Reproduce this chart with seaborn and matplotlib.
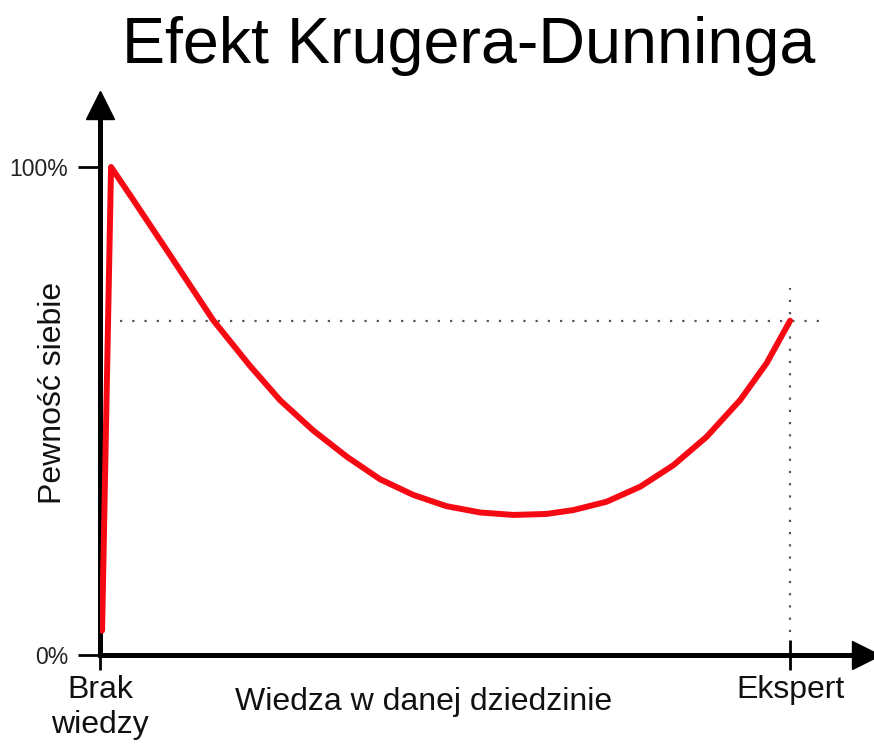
import matplotlib
matplotlib.use('Agg')
import matplotlib.pyplot as plt
import seaborn as sns
import pandas as pd

# wiedza (0 = brak, 100 = ekspert) i pewnosc siebie w %
knowledge = [0.3, 1.6, 4.8, 9.7, 16.4, 21.7, 26.1, 30.9, 35.8, 40.6, 45.4, 50.2,
             55.1, 59.9, 64.7, 68.6, 73.4, 78.3, 83.1, 87.9, 92.8, 96.6, 100]
confidence = [5, 100, 93.3, 82.9, 68.6, 59.3, 52.2, 46.0, 40.6, 36.0, 32.8, 30.5,
              29.2, 28.7, 28.9, 29.7, 31.4, 34.5, 38.9, 44.7, 52.3, 59.8, 68.5]
expert_x = 100
expert_level = 68.5
x_ticks = [0, 100]
x_labels = ['Brak\nwiedzy', 'Ekspert']
y_ticks = [0, 100]
y_labels = ['0%', '100%']

df = pd.DataFrame({'Wiedza': knowledge, 'Pewnosc': confidence})

sns.set_theme(style='white')
plt.rcParams['font.family'] = ['Liberation Sans', 'DejaVu Sans']

fig = plt.figure(figsize=(8.74, 7.46), dpi=100)
ax = fig.add_axes([100 / 874, 91 / 746, 766 / 874, 550 / 746])

sns.lineplot(data=df, x='Wiedza', y='Pewnosc', ax=ax, color='#f50a14', linewidth=4.3,
             sort=False, solid_capstyle='round', solid_joinstyle='round', zorder=3)

# linie pomocnicze (kropkowane)
ax.hlines(expert_level, 2.9, 105.1, colors='#555555', linewidth=1.6,
          linestyles=(0, (1, 4.5)), zorder=1, clip_on=False)
ax.vlines(expert_x, 4.7, 75.2, colors='#555555', linewidth=1.6,
          linestyles=(0, (1, 4.5)), zorder=1)

ax.set_xlim(0, 111.0)
ax.set_ylim(0, 112.7)

for s in ['top', 'right']:
    ax.spines[s].set_visible(False)
for s in ['left', 'bottom']:
    ax.spines[s].set_linewidth(3.6)
    ax.spines[s].set_color('black')
    ax.spines[s].set_zorder(2)

# strzalki na koncach osi
ax.plot(1, 0, '>', color='black', markersize=20, transform=ax.get_yaxis_transform(), clip_on=False)
ax.plot(0, 1, '^', color='black', markersize=20, transform=ax.get_xaxis_transform(), clip_on=False)

ax.set_xticks(x_ticks)
ax.set_xticklabels(x_labels, fontsize=23, color='#111111')
ax.set_yticks(y_ticks)
ax.set_yticklabels(y_labels, fontsize=16.5, color='#222222')
ax.tick_params(axis='x', bottom=True, direction='inout', length=21, width=2, color='black', pad=4)
ax.tick_params(axis='y', left=True, direction='out', length=16, width=2, color='black', pad=7)
ax.grid(False)

ax.set_xlabel('Wiedza w danej dziedzinie', fontsize=23, color='#111111')
ax.xaxis.set_label_coords(0.422, -0.058)
ax.set_ylabel('Pewność siebie', fontsize=23, color='#111111')
ax.yaxis.set_label_coords(-0.042, 0.477)

fig.text(469 / 874, 1 - 63 / 746, 'Efekt Krugera-Dunninga', fontsize=46.5,
         ha='center', va='baseline', color='black')

fig.savefig('out.png', dpi=100, facecolor='white')
